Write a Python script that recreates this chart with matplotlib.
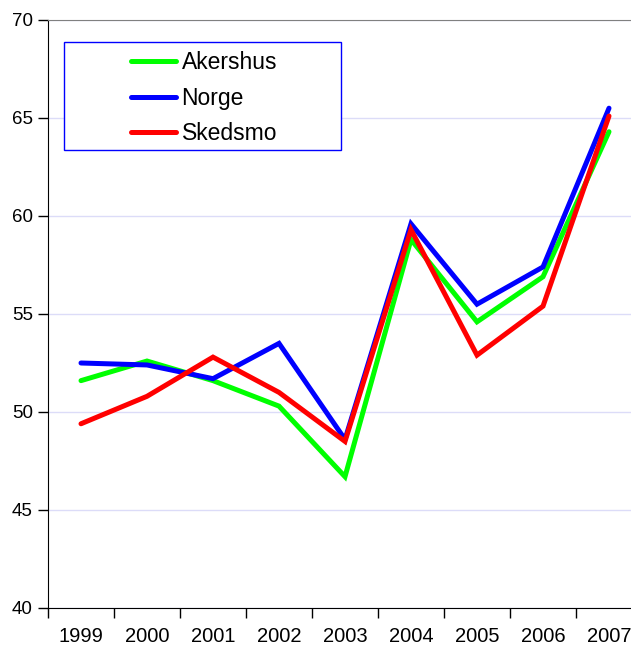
import matplotlib
matplotlib.use("Agg")
import matplotlib.pyplot as plt
from matplotlib.lines import Line2D
from matplotlib.patches import Rectangle
import numpy as np

plt.rcParams['font.family'] = ['Liberation Sans', 'DejaVu Sans']

# data
years = ["1999", "2000", "2001", "2002", "2003", "2004", "2005", "2006", "2007"]
akershus = [51.6, 52.6, 51.6, 50.3, 46.7, 58.8, 54.6, 56.9, 64.3]
norge = [52.5, 52.4, 51.7, 53.5, 48.6, 59.6, 55.5, 57.4, 65.5]
skedsmo = [49.4, 50.8, 52.8, 51.0, 48.5, 59.3, 52.9, 55.4, 65.1]

series = [("Akershus", akershus, "#00ff00"),
          ("Norge", norge, "#0000ff"),
          ("Skedsmo", skedsmo, "#ff0000")]

fig = plt.figure(figsize=(6.31, 6.46), dpi=100)
ax = fig.add_axes([48 / 631, 38 / 646, 594 / 631, 588 / 646])

x = np.arange(len(years))
for name, vals, col in series:
    ax.plot(x, vals, color=col, linewidth=3.6, solid_capstyle="round",
            solid_joinstyle="miter", label=name)

ax.set_xlim(-0.5, len(years) - 0.5)
ax.set_ylim(40, 70)
ax.set_yticks(np.arange(40, 71, 5))
ax.yaxis.grid(True, color="#dcdcf8", linewidth=1)
ax.set_axisbelow(True)

ax.set_xticks(x)
ax.set_xticklabels(years, fontsize=14.5)
ax.set_xticks(np.arange(-0.5, len(years), 1), minor=True)
ax.tick_params(axis="x", which="major", length=0, pad=14)
ax.tick_params(axis="x", which="minor", length=7, width=1, direction="out")
ax.tick_params(axis="y", length=7, width=1, direction="out", labelsize=13.5, pad=4)

ax.spines["right"].set_visible(False)
ax.spines["top"].set_color("#808080")
ax.spines["left"].set_color("black")
ax.spines["bottom"].set_color("black")

# legend box
ax.add_patch(Rectangle((16 / 594, (608 - 150) / 588), 277 / 594, 108 / 588,
                       transform=ax.transAxes, fill=True, facecolor="white",
                       edgecolor="#0000ff", linewidth=1, zorder=5))
handles = [Line2D([], [], color=c, linewidth=3.6, solid_capstyle="round") for _, _, c in series]
leg = ax.legend(handles, [s[0] for s in series], loc="upper left",
                bbox_to_anchor=(74 / 594, (608 - 42) / 588), frameon=False,
                fontsize=16.5, handlelength=1.95, handletextpad=0.25,
                labelspacing=0.55, borderaxespad=0)
leg.set_zorder(6)

fig.savefig("out.png", dpi=100)
